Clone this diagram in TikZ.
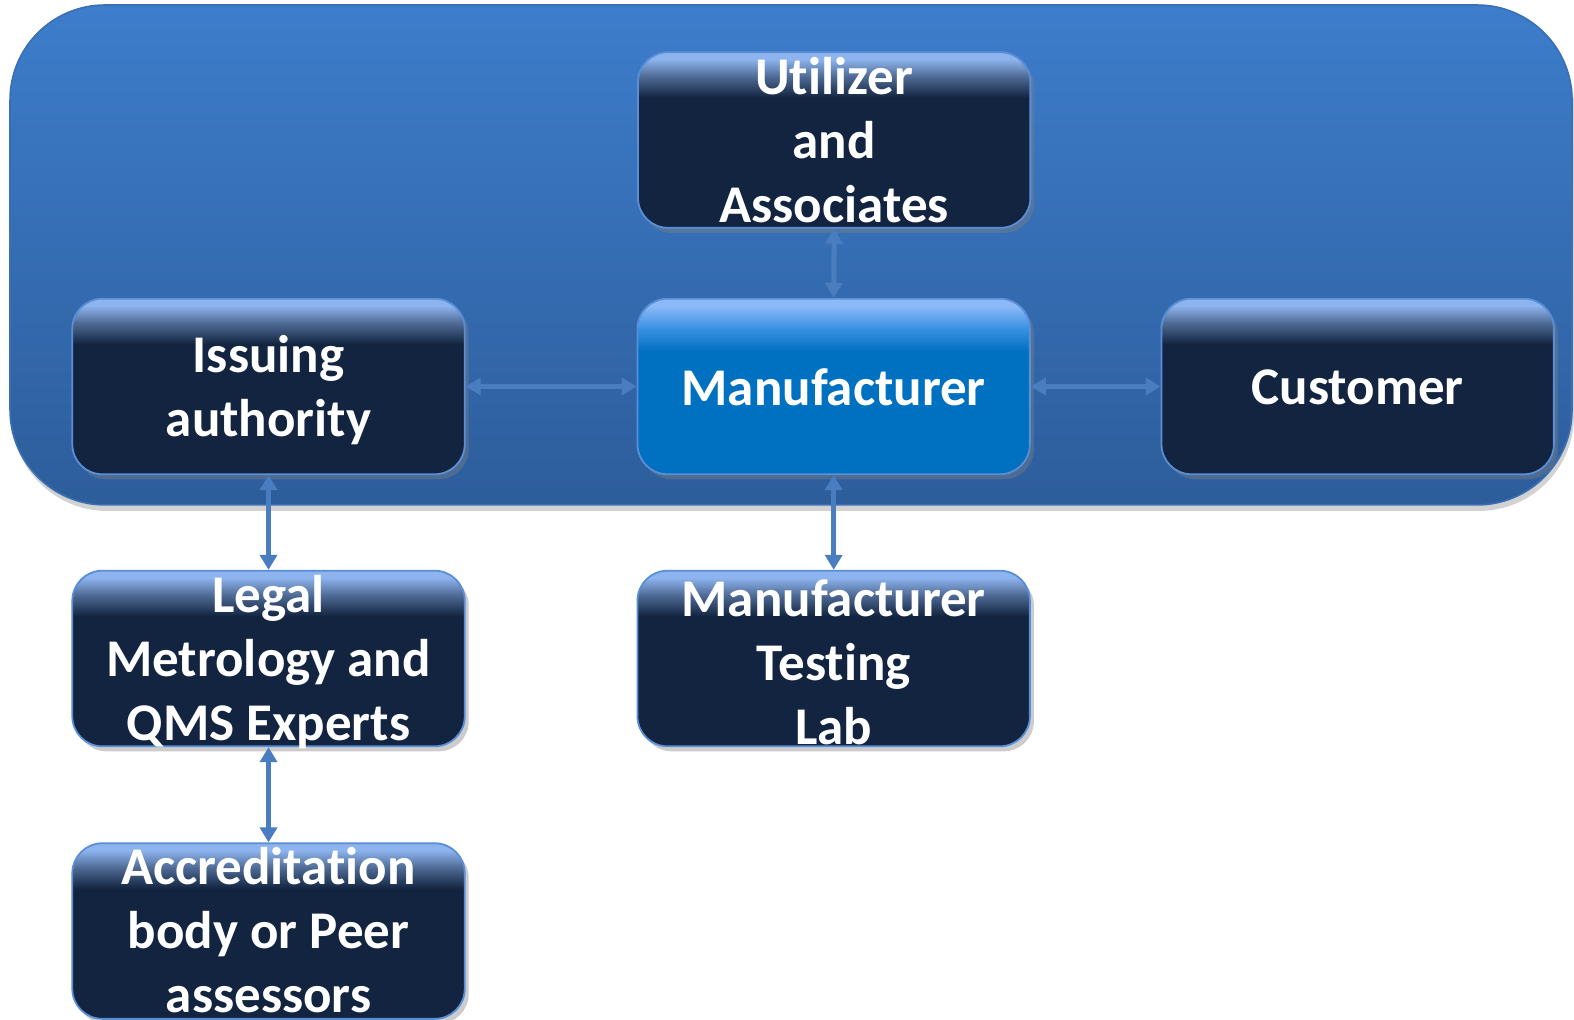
\documentclass[tikz,border=0pt]{standalone}
\usepackage{fontspec}
\setmainfont{Carlito}[Ligatures={NoCommon,NoContextual}]
\usetikzlibrary{arrows.meta,shadows,calc}
\definecolor{bgtop}{HTML}{3D7DCB}
\definecolor{bgbot}{HTML}{2D5D9B}
\definecolor{bgedge}{HTML}{3A6FB3}
\definecolor{navy}{HTML}{12243F}
\definecolor{boxtop}{HTML}{8DB4EE}
\definecolor{boxmid}{HTML}{4E6A94}
\definecolor{mfill}{HTML}{0070C0}
\definecolor{mtop}{HTML}{8CBAF8}
\definecolor{mmid}{HTML}{3E93E4}
\definecolor{edge}{HTML}{5A8ED6}
\definecolor{arrowc}{HTML}{4A7DBF}
\pgfdeclareverticalshading{cardshade}{100bp}{color(0bp)=(navy); color(62bp)=(navy); color(68bp)=(boxmid); color(73bp)=(boxtop); color(100bp)=(boxtop)}
\pgfdeclareverticalshading{mainshade}{100bp}{color(0bp)=(mfill); color(60bp)=(mfill); color(67bp)=(mmid); color(73bp)=(mtop); color(100bp)=(mtop)}
\tikzset{
  card/.style={rounded corners=15pt, minimum width=196.2pt, minimum height=87.8pt,
    draw=edge, line width=0.9pt, shade, shading=cardshade, inner sep=0pt,
    drop shadow={opacity=0.4, shadow xshift=2pt, shadow yshift=-2.5pt}},
  maincard/.style={card, shading=mainshade},
  cardtext/.style={text=white, font=\bfseries\fontsize{26.5}{32}\selectfont, align=center, inner sep=0pt, yshift=-2pt},
  link/.style={draw=arrowc, line width=2.5pt,
    {Triangle[width=8.5pt,length=7.5pt,fill=arrowc]}-{Triangle[width=8.5pt,length=7.5pt,fill=arrowc]}}
}
\begin{document}
\begin{tikzpicture}[x=0.50191pt,y=-0.50191pt]
\useasboundingbox (0,0) rectangle (1568,1016);
\fill[white] (0,0) rectangle (1568,1016);
\path[rounded corners=47.5pt, top color=bgtop, bottom color=bgbot, draw=bgedge, line width=0.8pt,
  drop shadow={opacity=0.35, shadow xshift=1pt, shadow yshift=-3pt}] (10,5) rectangle (1566,503);

\node[card, label={[cardtext, yshift=2pt]center:{Utilizer\\and\\Associates}}] (util) at (831,139.5) {};
\node[card, label={[cardtext]center:{Issuing\\authority}}] (iss) at (267.5,385) {};
\node[maincard, label={[cardtext, yshift=1.5pt]center:{Manufacturer}}] (man) at (830.5,385) {};
\node[card, label={[cardtext, yshift=1.5pt]center:{Customer}}] (cust) at (1352.5,385) {};
\node[card, label={[cardtext]center:{Legal\\Metrology and\\QMS Experts}}] (legal) at (267.5,656) {};
\node[card, label={[cardtext]center:{Manufacturer\\Testing\\Lab}}] (lab) at (830.5,656) {};
\node[card, label={[cardtext, yshift=2.5pt]center:{Accreditation\\body or Peer\\assessors}}] (accr) at (267.5,927.5) {};

\draw[link] (util.south) -- (man.north);
\draw[link] (iss.east) -- (man.west);
\draw[link] (man.east) -- (cust.west);
\draw[link] (iss.south) -- (legal.north);
\draw[link] (man.south) -- (lab.north);
\draw[link] (legal.south) -- (accr.north);
\end{tikzpicture}
\end{document}
